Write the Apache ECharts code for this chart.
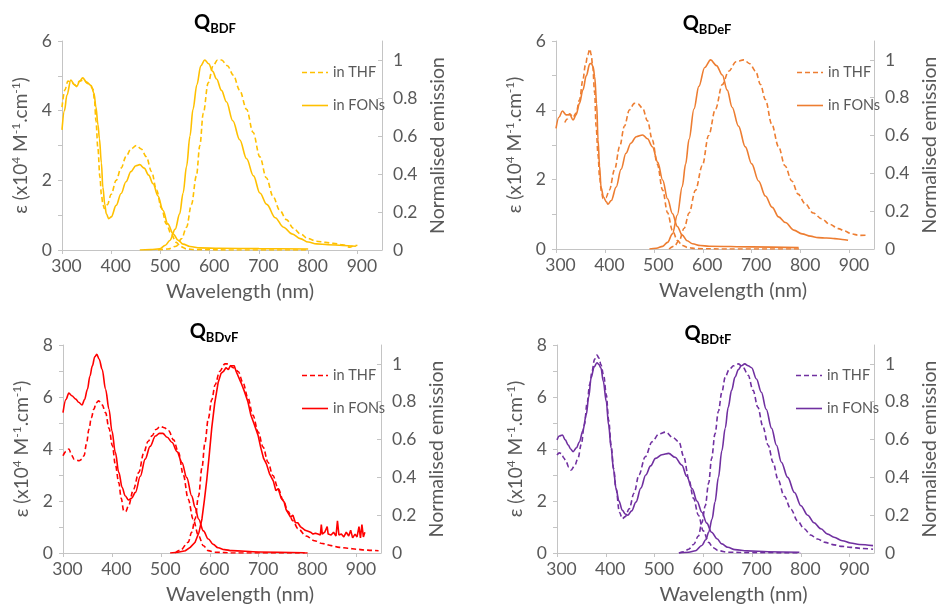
<!DOCTYPE html>
<html>
<head>
<meta charset="utf-8">
<title>Absorption and emission spectra</title>
<script src="https://cdn.jsdelivr.net/npm/echarts@6/dist/echarts.min.js"></script>
<style>
  html, body { margin: 0; padding: 0; background: #fff; }
  #chart { width: 941px; height: 606px; }
</style>
</head>
<body>
<div id="chart"></div>
<script>
// [wavelength nm, value]
// absorption: epsilon (x10^4 M-1.cm-1), emission: normalised

const bdfAbsThf = [[300,4.1],[306,4.6],[312,4.85],[320,4.8],[328,4.72],[336,4.85],[344,4.88],[352,4.78],[358,4.7],[363,4.62],[366,4.3],[369,3.7],[373,2.9],[377,2.1],[380,1.6],[383,1.32],[386,1.19],[392,1.3],[400,1.6],[410,2.0],[420,2.35],[430,2.68],[440,2.9],[451,3.0],[461,2.9],[471,2.68],[482,2.25],[492,1.72],[502,1.2],[512,0.75],[522,0.45],[532,0.22],[542,0.09],[553,0.03],[570,0.01],[650,0.0],[800,0.0]];
const bdfAbsFons = [[300,3.45],[305,4.0],[310,4.45],[318,4.88],[325,4.75],[330,4.69],[336,4.85],[342,4.94],[350,4.82],[359,4.72],[365,4.5],[369,4.1],[373,3.6],[376,3.2],[380,2.5],[383,1.8],[387,1.3],[390,1.04],[395,0.9],[400,0.95],[410,1.28],[420,1.62],[430,1.96],[440,2.25],[450,2.42],[458,2.45],[467,2.35],[476,2.15],[485,1.9],[495,1.55],[505,1.14],[515,0.75],[526,0.46],[536,0.28],[546,0.17],[560,0.1],[580,0.06],[620,0.05],[700,0.04],[800,0.03]];
const bdfEmThf = [[495,0],[515,0.005],[532,0.02],[543,0.06],[553,0.12],[563,0.24],[573,0.39],[580,0.55],[587,0.72],[597,0.88],[607,0.97],[616,1.0],[624,1.0],[636,0.97],[648,0.92],[661,0.84],[675,0.74],[688,0.62],[702,0.49],[715,0.38],[729,0.28],[742,0.21],[756,0.16],[770,0.115],[784,0.085],[800,0.06],[817,0.046],[835,0.04],[851,0.035],[870,0.028],[885,0.015],[892,0.022],[900,0.025]];
const bdfEmFons = [[458,0],[480,0.002],[498,0.006],[510,0.025],[519,0.05],[530,0.11],[539,0.19],[546,0.3],[553,0.44],[560,0.6],[566,0.74],[574,0.87],[582,0.97],[590,1.0],[598,0.98],[606,0.94],[614,0.9],[624,0.84],[634,0.78],[647,0.68],[661,0.58],[675,0.48],[689,0.39],[702,0.3],[716,0.24],[733,0.17],[750,0.12],[767,0.085],[784,0.06],[800,0.042],[817,0.032],[840,0.028],[870,0.024],[897,0.02]];

const bdefAbsThf = [[318,3.65],[323,3.75],[328,3.9],[335,3.8],[341,3.92],[348,4.3],[355,4.88],[360,5.3],[365,5.6],[369,5.77],[372,5.6],[375,5.27],[379,4.5],[382,3.53],[386,2.7],[389,2.08],[393,1.65],[396,1.46],[402,1.48],[409,1.7],[420,2.3],[430,2.95],[440,3.55],[450,4.01],[460,4.2],[468,4.18],[477,4.06],[487,3.7],[497,3.14],[507,2.45],[518,1.7],[528,1.05],[538,0.54],[548,0.25],[558,0.1],[570,0.04],[586,0.01],[650,0],[800,0]];
const bdefAbsFons = [[300,3.48],[306,3.8],[313,3.98],[321,3.87],[328,3.88],[335,3.72],[341,3.87],[348,4.2],[355,4.59],[362,5.0],[369,5.34],[372,5.36],[376,5.25],[379,4.98],[383,4.2],[386,3.14],[389,2.4],[392,1.79],[397,1.5],[403,1.36],[406,1.29],[413,1.4],[423,1.79],[433,2.3],[443,2.76],[453,3.05],[464,3.24],[477,3.29],[487,3.18],[497,2.95],[508,2.5],[518,1.99],[528,1.45],[538,1.02],[548,0.65],[558,0.4],[568,0.24],[579,0.15],[595,0.1],[613,0.08],[700,0.06],[796,0.04]];
const bdefEmThf = [[531,0],[542,0.015],[552,0.046],[562,0.11],[572,0.19],[585,0.31],[599,0.44],[612,0.6],[626,0.74],[640,0.87],[653,0.94],[668,0.99],[684,1.0],[696,0.98],[708,0.94],[718,0.87],[728,0.79],[741,0.66],[755,0.54],[768,0.44],[782,0.36],[795,0.29],[809,0.24],[826,0.19],[843,0.16],[860,0.13],[877,0.108],[890,0.095],[904,0.08],[920,0.072],[935,0.073]];
const bdefEmFons = [[491,0],[505,0.004],[518,0.014],[528,0.035],[538,0.08],[548,0.18],[558,0.33],[565,0.45],[572,0.58],[582,0.74],[592,0.86],[604,0.96],[616,1.0],[628,0.97],[640,0.92],[650,0.84],[660,0.75],[673,0.65],[687,0.54],[700,0.45],[714,0.36],[728,0.28],[742,0.22],[755,0.17],[769,0.14],[786,0.1],[803,0.08],[820,0.068],[836,0.06],[853,0.058],[870,0.055],[885,0.05],[897,0.046]];

const bdvfAbsThf = [[300,3.74],[306,3.9],[312,4.0],[318,3.75],[323,3.6],[333,3.55],[338,3.6],[343,3.74],[348,4.2],[353,4.76],[358,5.2],[363,5.53],[368,5.78],[373,5.85],[380,5.7],[387,5.4],[394,4.8],[401,4.12],[407,3.4],[414,2.71],[419,2.1],[424,1.63],[428,1.59],[434,1.82],[444,2.45],[455,3.1],[465,3.85],[474,4.3],[482,4.51],[490,4.75],[499,4.87],[507,4.82],[516,4.7],[526,4.35],[536,3.87],[546,3.0],[556,2.07],[566,1.3],[577,0.67],[587,0.28],[597,0.09],[610,0.03],[650,0.0],[800,0.0]];
const bdvfAbsFons = [[300,5.4],[306,5.9],[312,6.15],[318,6.05],[326,5.92],[332,5.8],[339,5.69],[344,5.9],[350,6.3],[355,6.8],[360,7.2],[365,7.55],[369,7.64],[374,7.45],[380,7.07],[387,6.3],[394,5.53],[400,4.7],[407,3.87],[414,3.1],[421,2.52],[427,2.2],[434,2.04],[440,2.1],[448,2.33],[458,2.95],[468,3.61],[478,4.1],[489,4.5],[497,4.6],[504,4.6],[513,4.45],[523,4.25],[533,3.9],[543,3.48],[553,2.9],[563,2.2],[570,1.75],[577,1.31],[587,0.85],[597,0.54],[607,0.33],[617,0.2],[630,0.13],[645,0.09],[700,0.04],[794,0.01]];
const bdvfEmThf = [[529,0],[540,0.015],[556,0.057],[563,0.11],[570,0.18],[577,0.3],[584,0.45],[590,0.58],[597,0.71],[604,0.81],[611,0.89],[620,0.96],[631,1.0],[638,1.0],[648,0.98],[658,0.96],[668,0.9],[678,0.82],[688,0.73],[699,0.64],[709,0.56],[719,0.48],[729,0.41],[740,0.34],[750,0.28],[760,0.22],[770,0.17],[780,0.13],[797,0.09],[814,0.065],[830,0.05],[848,0.039],[865,0.03],[882,0.025],[900,0.02],[916,0.016],[930,0.014],[945,0.012]];
const bdvfEmFons = [[519,0],[535,0.004],[550,0.012],[560,0.03],[570,0.057],[578,0.11],[584,0.18],[589,0.28],[594,0.39],[599,0.52],[604,0.66],[610,0.79],[617,0.9],[623,0.95],[628,0.96],[633,0.98],[638,0.97],[642,0.99],[646,0.98],[650,0.99],[654,0.96],[658,0.97],[664,0.9],[670,0.86],[678,0.8],[684,0.73],[691,0.68],[699,0.62],[704,0.56],[710,0.5],[716,0.47],[722,0.42],[730,0.38],[735,0.33],[740,0.34],[746,0.29],[752,0.27],[756,0.23],[760,0.24],[765,0.19],[770,0.2],[775,0.16],[780,0.16],[785,0.14],[790,0.13],[795,0.12],[801,0.115],[806,0.11],[811,0.1],[816,0.105],[821,0.1],[826,0.095],[828,0.15],[830,0.1],[835,0.11],[840,0.14],[842,0.1],[848,0.095],[853,0.11],[858,0.09],[861,0.17],[864,0.095],[869,0.1],[874,0.085],[879,0.11],[884,0.09],[888,0.12],[892,0.08],[897,0.1],[901,0.085],[905,0.14],[908,0.08],[911,0.15],[914,0.085],[917,0.11]];

const bdtfAbsThf = [[300,3.77],[305,3.85],[309,3.83],[314,3.65],[319,3.5],[324,3.3],[329,3.19],[336,3.35],[343,3.64],[350,4.2],[356,4.93],[362,5.8],[367,6.48],[372,7.0],[377,7.45],[382,7.61],[386,7.5],[390,7.25],[396,6.8],[401,6.09],[406,5.1],[411,4.15],[416,3.25],[421,2.48],[428,1.57],[434,1.32],[440,1.4],[448,1.7],[458,2.3],[468,3.0],[481,3.7],[495,4.28],[509,4.58],[523,4.65],[537,4.45],[550,4.28],[560,3.7],[570,2.86],[580,2.1],[590,1.45],[600,0.85],[611,0.41],[620,0.2],[631,0.09],[650,0.03],[700,0.01],[800,0.0]];
const bdtfAbsFons = [[300,4.35],[305,4.5],[311,4.54],[317,4.35],[323,4.15],[328,4.0],[333,3.9],[340,4.05],[346,4.28],[353,4.7],[360,5.32],[365,6.0],[370,6.74],[376,7.15],[382,7.32],[386,7.25],[390,7.12],[395,6.6],[401,5.83],[406,4.9],[411,4.03],[416,3.2],[421,2.48],[427,2.0],[434,1.64],[440,1.5],[445,1.45],[453,1.62],[462,1.96],[472,2.5],[482,3.0],[492,3.35],[502,3.64],[515,3.78],[529,3.83],[542,3.68],[556,3.38],[566,2.95],[577,2.48],[587,2.0],[597,1.57],[607,1.15],[617,0.8],[628,0.55],[638,0.35],[650,0.22],[665,0.13],[690,0.08],[733,0.05],[797,0.03]];
const bdtfEmThf = [[550,0],[560,0.006],[570,0.02],[580,0.045],[590,0.09],[597,0.16],[604,0.25],[611,0.37],[617,0.5],[624,0.63],[631,0.75],[638,0.85],[645,0.93],[653,0.97],[662,0.99],[672,1.0],[682,0.98],[692,0.94],[702,0.86],[712,0.77],[722,0.67],[733,0.57],[743,0.48],[753,0.39],[766,0.3],[780,0.23],[793,0.17],[807,0.128],[820,0.095],[834,0.074],[850,0.056],[868,0.043],[885,0.035],[902,0.03],[925,0.024],[948,0.02]];
const bdtfEmFons = [[550,0],[570,0.004],[584,0.012],[597,0.04],[605,0.07],[611,0.11],[618,0.18],[624,0.27],[631,0.4],[638,0.54],[645,0.66],[651,0.77],[658,0.86],[665,0.93],[672,0.97],[678,0.99],[685,1.0],[692,0.99],[699,0.98],[709,0.92],[719,0.85],[729,0.76],[740,0.66],[750,0.57],[760,0.48],[773,0.4],[787,0.32],[800,0.25],[814,0.2],[827,0.16],[841,0.128],[855,0.1],[868,0.083],[885,0.065],[902,0.053],[920,0.045],[948,0.039]];

const xTicks = [300, 400, 500, 600, 700, 800, 900];
const emTicks = [0, 0.2, 0.4, 0.6, 0.8, 1];

const panels = [
  { sub: 'BDF',  color: '#FFC000', yMax: 6, abs: [bdfAbsThf, bdfAbsFons],   em: [bdfEmThf, bdfEmFons],   noisy: false,
    box: [62, 41, 320, 209],  title: [210, 6],   legend: [297, 60] },
  { sub: 'BDeF', color: '#ED7D31', yMax: 6, abs: [bdefAbsThf, bdefAbsFons], em: [bdefEmThf, bdefEmFons], noisy: false,
    box: [556, 41, 318, 208], title: [702, 7],   legend: [792, 60] },
  { sub: 'BDvF', color: '#FF0000', yMax: 8, abs: [bdvfAbsThf, bdvfAbsFons], em: [bdvfEmThf, bdvfEmFons], noisy: true,
    box: [63, 345, 318, 209], title: [209, 315], legend: [297, 363] },
  { sub: 'BDtF', color: '#7030A0', yMax: 8, abs: [bdtfAbsThf, bdtfAbsFons], em: [bdtfEmThf, bdtfEmFons], noisy: false,
    box: [557, 345, 319, 209], title: [703, 317], legend: [791, 363] }
];

const FONT = 'Lato, "Open Sans", "DejaVu Sans", sans-serif';
const GREY = '#595959';
const AXIS = '#c4c4c4';
// legend keys drawn as plain strokes (line series would add a circle)
const DASH_ICON = 'path://M0,0h50v16h-50z M80,0h50v16h-50z M160,0h50v16h-50z M240,0h20v16h-20z';
const SOLID_ICON = 'path://M0,0h260v16h-260z';

const option = {
  animation: false,
  backgroundColor: '#fff',
  title: [], legend: [], grid: [], xAxis: [], yAxis: [], series: []
};

panels.forEach((p, i) => {
  const thf = p.sub + ' THF', fons = p.sub + ' FONs';

  option.title.push({
    text: '{q|Q}{s|' + p.sub + '}',
    left: p.title[0], top: p.title[1], textAlign: 'center',
    textStyle: {
      rich: {
        q: { fontFamily: FONT, fontSize: 20, fontWeight: 'bold', color: '#000', lineHeight: 24 },
        s: { fontFamily: FONT, fontSize: 13, fontWeight: 'bold', color: '#000', lineHeight: 14, verticalAlign: 'bottom' }
      }
    }
  });

  option.legend.push({
    orient: 'vertical', left: p.legend[0], top: p.legend[1],
    itemWidth: 26, itemHeight: 14, itemGap: 18,
    data: [{ name: thf, icon: DASH_ICON }, { name: fons, icon: SOLID_ICON }],
    formatter: name => 'in ' + name.split(' ')[1],
    textStyle: { fontFamily: FONT, fontSize: 14.5, color: GREY }
  });

  option.grid.push({ left: p.box[0], top: p.box[1], width: p.box[2], height: p.box[3] });

  option.xAxis.push({
    type: 'value', gridIndex: i, min: 300, max: 950, interval: 100,
    axisLine: { show: true, lineStyle: { color: AXIS, width: 1 } },
    axisTick: { show: true, length: 4, customValues: xTicks, lineStyle: { color: AXIS } },
    axisLabel: { customValues: xTicks, margin: 7, padding: [0, 0, 0, 9], fontFamily: FONT, fontSize: 17.5, color: GREY },
    splitLine: { show: false },
    name: 'Wavelength (nm)', nameLocation: 'middle', nameGap: 32,
    nameTextStyle: { fontFamily: FONT, fontSize: 20, color: GREY, padding: [0, 0, 0, 36] }
  });

  const yLabels = [];
  for (let v = 0; v <= p.yMax; v += 2) yLabels.push(v);

  option.yAxis.push({
    type: 'value', gridIndex: i, position: 'left', min: 0, max: p.yMax, interval: 1,
    axisLine: { show: true, lineStyle: { color: AXIS, width: 1 } },
    axisTick: { show: true, length: 4, lineStyle: { color: AXIS } },
    axisLabel: { customValues: yLabels, margin: 10, fontFamily: FONT, fontSize: 17.5, color: GREY },
    splitLine: { show: false },
    name: '{a|ε (x10}{s|4}{a| M}{s|-1}{a|.cm}{s|-1}{a|)}',
    nameLocation: 'middle', nameRotate: 90, nameGap: 30,
    nameTextStyle: {
      rich: {
        a: { fontFamily: FONT, fontSize: 19, color: GREY, lineHeight: 22 },
        s: { fontFamily: FONT, fontSize: 12, color: GREY, lineHeight: 12, verticalAlign: 'top' }
      }
    }
  });

  option.yAxis.push({
    type: 'value', gridIndex: i, position: 'right', min: 0, max: 1.1,
    axisLine: { show: true, lineStyle: { color: AXIS, width: 1 } },
    axisTick: { show: true, inside: true, length: 4, customValues: emTicks, lineStyle: { color: AXIS } },
    axisLabel: { customValues: emTicks, margin: 11, fontFamily: FONT, fontSize: 17.5, color: GREY,
      formatter: v => (v === 0 || v === 1) ? String(v) : v.toFixed(1) },
    splitLine: { show: false },
    name: 'Normalised emission', nameLocation: 'middle', nameRotate: 90, nameGap: 46,
    nameTextStyle: { fontFamily: FONT, fontSize: 19.5, color: GREY }
  });

  const line = (name, data, yIdx, dashed, jagged) => ({
    type: 'line', name: name, data: data,
    xAxisIndex: i, yAxisIndex: yIdx,
    symbol: 'none', smooth: jagged ? false : 0.35, smoothMonotone: 'x',
    lineStyle: { color: p.color, width: 1.6, type: dashed ? [5, 3] : 'solid' },
    itemStyle: { color: p.color }
  });

  option.series.push(
    line(thf, p.abs[0], 2 * i, true, false),
    line(fons, p.abs[1], 2 * i, false, false),
    line(thf, p.em[0], 2 * i + 1, true, false),
    line(fons, p.em[1], 2 * i + 1, false, p.noisy)
  );
});

const chart = echarts.init(document.getElementById('chart'), null, { renderer: 'canvas' });
chart.setOption(option);
</script>
</body>
</html>
